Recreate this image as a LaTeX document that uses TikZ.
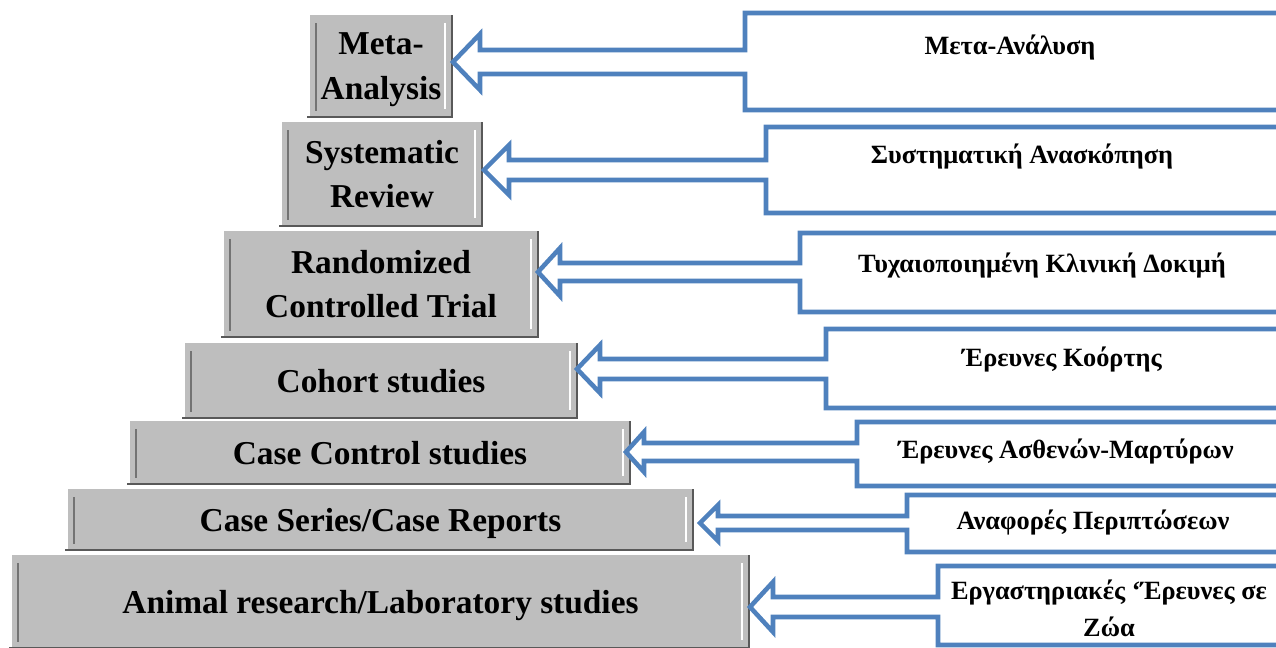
\documentclass[tikz,border=0pt]{standalone}
\usepackage{fontspec}
\setmainfont{Liberation Serif}
\usepackage{tikz}
\definecolor{boxgray}{RGB}{190,190,190}
\definecolor{calloutblue}{RGB}{79,129,189}
\tikzstyle{level}=[fill=boxgray, inner sep=0pt, outer sep=0pt, align=center, text depth=0pt, font=\fontsize{19}{25.5}\selectfont\bfseries]
\tikzstyle{greek}=[inner sep=0pt, align=center, font=\fontsize{15}{21}\selectfont\bfseries]
\tikzstyle{callout}=[draw=calloutblue, line width=2.6pt, fill=white]
\newcommand{\bevel}[1]{
	\draw[line width=1.5pt, black!65] ([shift={(-3,0)}]#1.south west) -- (#1.south east) -- (#1.north east);
	\draw[line width=0.8pt, black!55] ([shift={(6,8)}]#1.north west) -- ([shift={(6,-6)}]#1.south west);
	\draw[line width=0.8pt, white] ([shift={(-7,8)}]#1.north east) -- ([shift={(-7,-8)}]#1.south east);
}
% tip x, tip y, shaft, head half height, head length, box left, top, bottom
\newcommand{\callout}[8]{
	\draw[callout] (#1,#2) -- (#1+#5,#2-#4) -- (#1+#5,#2-#3) -- (#6,#2-#3) -- (#6,#7) -- (1290,#7)
		-- (1290,#8) -- (#6,#8) -- (#6,#2+#3) -- (#1+#5,#2+#3) -- (#1+#5,#2+#4) -- cycle;
}

\begin{document}
\begin{tikzpicture}[x=0.02cm, y=-0.02cm]
	\useasboundingbox (0,0) rectangle (1276,648);
	\clip (0,0) rectangle (1276,648);

	\node[level, minimum width=2.84cm, minimum height=2.04cm] (meta) at (381,66) {Meta-\\Analysis};
	\node[level, minimum width=4cm, minimum height=2.08cm] (sysrev) at (382,174) {Systematic\\Review};
	\node[level, minimum width=6.28cm, minimum height=2.12cm] (rct) at (381,284) {Randomized\\Controlled Trial};
	\node[level, minimum width=7.84cm, minimum height=1.5cm] (cohort) at (381,380.5) {Cohort studies};
	\node[level, minimum width=10cm, minimum height=1.26cm] (casectrl) at (380,452.5) {Case Control studies};
	\node[level, minimum width=12.5cm, minimum height=1.22cm] (caseser) at (380.5,519.5) {Case Series/Case Reports};
	\node[level, minimum width=14.74cm, minimum height=1.86cm] (animal) at (380.5,601.5) {Animal research/Laboratory studies};

	\foreach \n in {meta, sysrev, rct, cohort, casectrl, caseser, animal}
		{\bevel{\n}}

	\callout{453}{62}{12}{28}{27}{745}{13}{110}
	\callout{484}{170}{10}{25}{25}{766}{127}{213}
	\callout{538}{272}{9}{24}{22}{800}{233}{312}
	\callout{577}{369}{10}{24}{23}{826}{329}{408}
	\callout{626}{452}{9}{20}{18}{857}{422}{486}
	\callout{700}{523}{7}{18}{18}{907}{495}{552}
	\callout{750}{607}{10}{25}{23}{938}{566}{645}

	\node[greek] (t1) at (1010,48) {Μετα-Ανάλυση};
	\node[greek] (t2) at (1022,157) {Συστηματική Ανασκόπηση};
	\node[greek] (t3) at (1042,266) {Τυχαιοποιημένη Κλινική Δοκιμή};
	\node[greek] (t4) at (1062,360) {Έρευνες Κοόρτης};
	\node[greek] (t5) at (1066,452) {Έρευνες Ασθενών-Μαρτύρων};
	\node[greek] (t6) at (1093,523) {Αναφορές Περιπτώσεων};
	\node[greek] (t7) at (1109,608) {Εργαστηριακές ‘Έρευνες σε\\Ζώα};
\end{tikzpicture}
\end{document}
